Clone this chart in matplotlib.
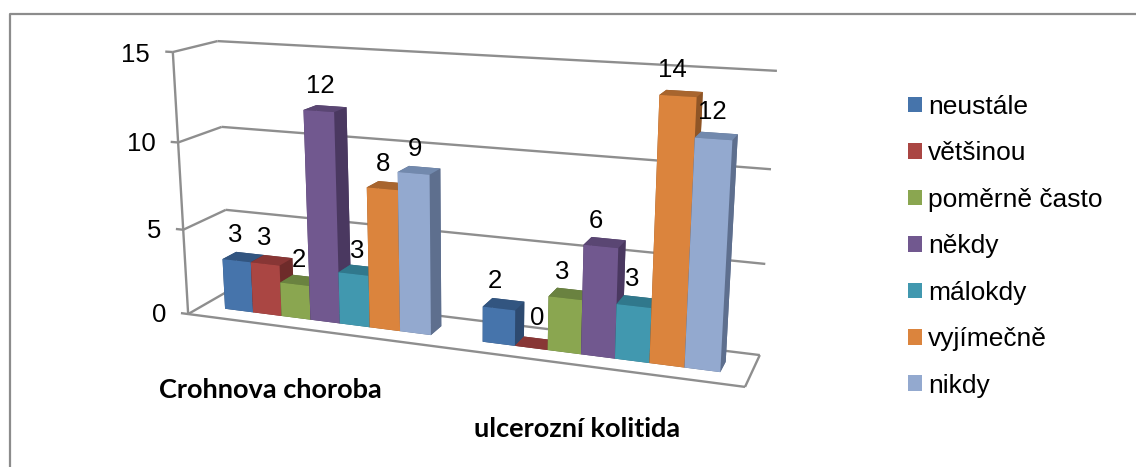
import numpy as np
import matplotlib
matplotlib.use("Agg")
import matplotlib.pyplot as plt
from matplotlib.lines import Line2D
from matplotlib.patches import Rectangle
from mpl_toolkits.mplot3d import Axes3D, proj3d  # noqa: F401
from mpl_toolkits.mplot3d.art3d import Line3DCollection

categories = ["Crohnova choroba", "ulcerozní kolitida"]
series_names = ["neustále", "většinou", "poměrně často", "někdy", "málokdy", "vyjímečně", "nikdy"]
crohn_values = [3, 3, 2, 12, 3, 8, 9]
colitis_values = [2, 0, 3, 6, 3, 14, 12]
z_ticks = [0, 5, 10, 15]

front_colors = ["#4674AB", "#AA4643", "#8AA650", "#71588F", "#4198AF", "#DB843D", "#93A9CF"]
top_colors = ["#325580", "#883635", "#6A8240", "#5A4673", "#30788C", "#A8652E", "#7289AD"]
side_colors = ["#2D4A70", "#6E2B2A", "#556A33", "#4A3860", "#2A6577", "#8F5526", "#5E6F8E"]

# Small pixel nudges of the value labels (dx, dy up), layout only
label_nudge = [[(-3, 1), (-2, 2), (3, 1), (0, 0), (3, -1), (-1, 0), (0, -1)],
               [(-6, 2), (4, 6), (-5, 1), (-6, -1), (-4, 1), (-7, -1), (-3, 0)]]

FONT = "Liberation Sans"
W, H = 1136, 467
fig = plt.figure(figsize=(W / 100, H / 100), dpi=100, facecolor="white")

# Chart frame: only the top and left edges fall inside the picture
FRAME = dict(transform=fig.transFigure, color="#8C8C8C", lw=1.6)
fig.add_artist(Line2D([10 / W, 10 / W, 1], [0, 1 - 14 / H, 1 - 14 / H], **FRAME))

ax = fig.add_axes([0, 0, 1, 1], projection="3d")
ax.patch.set_alpha(0)
ax.set_axis_off()
ax.set_xlim(0, 2); ax.set_ylim(0, 1); ax.set_zlim(0, 15)
ax.set_xticks([]); ax.set_yticks([]); ax.set_zticks([])
ax.computed_zorder = False

# Camera calibrated from the reference's wall corners: (x, y, z) -> pixel
calib = [
    ((0, 0, 0), (188, 314)), ((0, 0, 15), (173, 52)),
    ((0, 1, 0), (229.7, 290)), ((0, 1, 5), (226, 210)), ((0, 1, 10), (222, 127)), ((0, 1, 15), (217, 41)),
    ((2, 0, 0), (745, 387)),
    ((2, 1, 0), (760, 355)), ((2, 1, 5), (765, 264)), ((2, 1, 10), (771, 169)), ((2, 1, 15), (777, 71)),
]
A = []
for (X, Y, Z), (u, v) in calib:
    A.append([X, Y, Z, 1, 0, 0, 0, 0, -u * X, -u * Y, -u * Z, -u])
    A.append([0, 0, 0, 0, X, Y, Z, 1, -v * X, -v * Y, -v * Z, -v])
P = np.linalg.svd(np.array(A, float))[2][-1].reshape(3, 4)
if P[2] @ np.array([1, 0.5, 7, 1]) < 0:
    P = -P
P = P / P[2, 3]
depth = np.array([-0.3, 1.0, -0.02, 0.0])
M = np.vstack([P[0], P[1], depth, P[2]])

ax.get_proj = lambda: M
ax.apply_aspect = lambda position=None: None
ax._set_position([0, 0, 1, 1], "active")
ax.viewLim.intervalx = (0, W)
ax.viewLim.intervaly = (H, 0)


def label3d(x, y, z, s, **kw):
    u, v, _ = proj3d.proj_transform(x, y, z, M)
    return ax.text2D(u, v, s, transform=ax.transData, family=FONT, fontsize=18.5, color="black", **kw)


# Walls, floor, gridlines
segments = []
for z in z_ticks:
    segments.append([(0, 0, z), (0, 1, z)])
    segments.append([(0, 1, z), (2, 1, z)])
    segments.append([(-0.03, 0, z), (0, 0, z)])
segments.append([(0, 0, 0), (0, 0, 15)])
segments.append([(0, 0, 0), (2, 0, 0)])
segments.append([(2, 0, 0), (2, 1, 0)])
grid = Line3DCollection(segments, colors="#8E8E8E", linewidths=1.7, zorder=1)
ax.add_collection3d(grid, autolim=False)
for z in z_ticks:
    label3d(-0.093, 0, z - 0.22, str(z), ha="right", va="center")

# Bars
GAP = 0.095
BAR_W = (1 - 2 * GAP) / 7
Y0, DY = 0.33, 0.33
PX_X, PX_Z = 275.0, 18.0
z_o = 2
for c, vals in enumerate([crohn_values, colitis_values]):
    for i, v in enumerate(vals):
        x = c + GAP + i * BAR_W
        # faces: bottom, top, front, back, left, right
        cols = [side_colors[i], top_colors[i], front_colors[i], side_colors[i], side_colors[i], side_colors[i]]
        ax.bar3d(x, Y0, 0, BAR_W, DY, v, color=cols, shade=False, zorder=z_o, edgecolor="none")
        z_o += 1
        dx, dz = label_nudge[c][i]
        label3d(x + BAR_W * 0.55 + dx / PX_X, Y0, v + 0.72 + dz / PX_Z, str(v), ha="center", va="bottom", zorder=50)

# Category labels
fig.text(270.5 / W, 1 - 390 / H, categories[0], family="Lato", fontweight="bold", fontsize=19.5,
         ha="center", va="center")
fig.text(577 / W, 1 - 429 / H, categories[1], family="Lato", fontweight="bold", fontsize=19.5,
         ha="center", va="center")

# Legend
handles = [Rectangle((0, 0), 1, 1, fc=c, ec="none") for c in front_colors]
leg = fig.legend(handles, series_names, loc="upper left", bbox_to_anchor=(908 / W, 1 - 95 / H),
                 frameon=False, prop={"family": FONT, "size": 19}, handlelength=0.53, handleheight=0.53,
                 handletextpad=0.23, labelspacing=0.85, borderpad=0, borderaxespad=0)

fig.savefig("out.png", dpi=100)
